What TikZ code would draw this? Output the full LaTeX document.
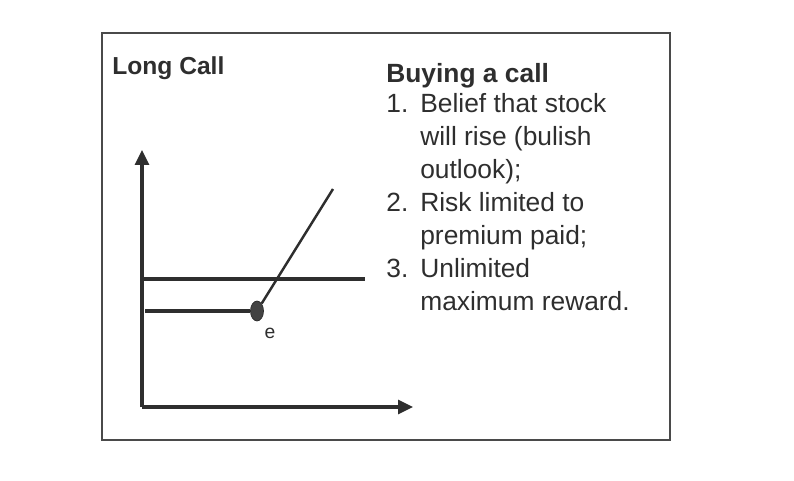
\documentclass[tikz,border=0pt]{standalone}
\usepackage{fontspec}
\setmainfont{Liberation Sans}
\usepackage{array}
\usetikzlibrary{shapes.geometric, arrows.meta, positioning}
\definecolor{ink}{HTML}{2E2E2E}
\definecolor{framegray}{HTML}{4A4A4A}

\begin{document}
\begin{tikzpicture}[
    x=0.02cm, y=-0.02cm,
    line/.style={draw=ink, line width=1.8pt},
    axis/.style={line, -{Triangle[length=0.3cm, width=0.28cm]}},
    title/.style={anchor=base west, inner sep=0pt, text=ink, font=\fontsize{14}{17}\selectfont\bfseries},
    notes/.style={anchor=base west, inner sep=0pt, text=ink, font=\fontsize{15}{18.8}\selectfont},
    point/.style={ellipse, draw=ink, fill=ink!90, minimum width=0.26cm, minimum height=0.4cm, inner sep=0pt}
]
    \useasboundingbox (0,0) rectangle (794,480);
    \draw [framegray, line width=1.4pt] (102,33) rectangle (670,440);

    \node (title) [title] at (112,74) {Long Call};
    \node (list) [notes] at (386,82) {%
        \begin{tabular}[t]{@{}l@{\hspace{0.24cm}}l@{}}
            \multicolumn{2}{@{}l@{}}{\bfseries Buying a call}\\[-1.5pt]
            1. & Belief that stock\\
               & will rise (bulish\\
               & outlook);\\
            2. & Risk limited to\\
               & premium paid;\\
            3. & Unlimited\\
               & maximum reward.
        \end{tabular}};

    \coordinate (orig) at (142,407);
    \coordinate (ytop) at (142,150);
    \coordinate (xend) at (413,407);
    \coordinate (upL) at (142,279);
    \coordinate (upR) at (365,279);
    \coordinate (lowL) at (145,311);
    \coordinate (high) at (333,189);

    \node (e) [point] at (257,311) {};
    \node (elabel) [text=ink, font=\fontsize{11}{13}\selectfont] at (270,333) {e};

    \draw [axis] (orig) -- (ytop);
    \draw [axis] (orig) -- (xend);
    \draw [line] (upL) -- (upR);
    \draw [line] (lowL) -- (e);
    \draw [line, line width=1.4pt] (e) -- (high);
\end{tikzpicture}
\end{document}
